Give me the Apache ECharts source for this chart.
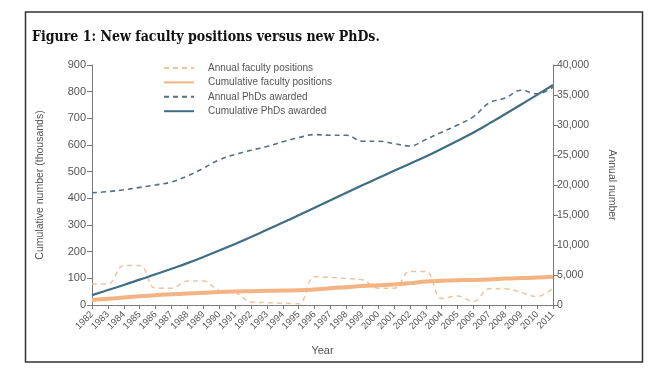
<!DOCTYPE html>
<html>
<head>
<meta charset="utf-8">
<script src="https://cdn.jsdelivr.net/npm/echarts@6/dist/echarts.min.js"></script>
<style>
html,body{margin:0;padding:0;background:#fff;}
#chart{width:650px;height:372px;}
</style>
</head>
<body>
<div id="chart"></div>
<script>
var years = ['1982','1983','1984','1985','1986','1987','1988','1989','1990','1991',
             '1992','1993','1994','1995','1996','1997','1998','1999','2000','2001',
             '2002','2003','2004','2005','2006','2007','2008','2009','2010','2011'];

// Annual faculty positions (right axis, annual number)
var annualFaculty = [3500,3500,6600,6600,2800,2800,4000,4000,2400,2100,
                     500,400,300,200,4700,4600,4400,4200,2800,2800,
                     5600,5600,1100,1500,600,2700,2700,2100,1400,2800];

// Cumulative faculty positions (left axis, thousands)
var cumFaculty = [19,23,28,33,37,40,43,46,49,51,
                  52,53,54,55,58,63,67,71,74,77,
                  82,88,91,93,94,96,99,101,103,106];

// Annual PhDs awarded (right axis, annual number)
var annualPhD = [18700,18900,19200,19600,20000,20500,21500,22800,24200,25100,
                 25800,26400,27200,27900,28400,28300,28300,27300,27300,26900,
                 26500,27600,28800,30000,31400,33700,34500,35800,35200,36300];

// Cumulative PhDs awarded (left axis, thousands)
var cumPhD = [37,56,75,95,115,136,157,180,204,229,
              255,282,309,337,365,393,421,449,476,503,
              530,557,586,616,647,681,716,752,788,825];

var names = ['Annual faculty positions','Cumulative faculty positions','Annual PhDs awarded','Cumulative PhDs awarded'];

var axisGray = '#7a7a7a';
var textGray = '#555';
var font = 'Liberation Sans';

var chart = echarts.init(document.getElementById('chart'), null, {renderer:'canvas'});
chart.setOption({
  animation: false,
  backgroundColor: '#fff',
  title: {
    text: 'Figure 1: New faculty positions versus new PhDs.',
    left: 27, top: 25,
    textStyle: {fontFamily: '"DejaVu Serif Condensed", "DejaVu Serif"', fontWeight: 'bold', fontSize: 14, color: '#111'}
  },
  graphic: [{
    type: 'rect', z: -1, silent: true,
    shape: {x: 25.5, y: 12, width: 617, height: 350},
    style: {fill: 'none', stroke: '#333', lineWidth: 1.5}
  }],
  legend: {
    orient: 'vertical', left: 158, top: 58,
    itemWidth: 30, itemHeight: 10, itemGap: 4.4,
    data: names,
    itemStyle: {opacity: 0},
    textStyle: {fontFamily: font, fontSize: 10, color: textGray, padding: [0,0,0,9]}
  },
  grid: {left: 92, right: 97, top: 65, bottom: 67, containLabel: false},
  xAxis: {
    type: 'category', data: years, boundaryGap: false,
    name: 'Year', nameLocation: 'middle', nameGap: 40,
    nameTextStyle: {fontFamily: font, fontSize: 11, color: textGray},
    axisLine: {lineStyle: {color: axisGray, width: 1}},
    axisTick: {show: true, length: 4, interval: 0, lineStyle: {color: axisGray}},
    axisLabel: {interval: 0, rotate: 45, fontFamily: font, fontSize: 9.5, color: textGray, margin: 8}
  },
  yAxis: [{
    type: 'value', min: 0, max: 900, interval: 100, position: 'left',
    name: 'Cumulative number (thousands)', nameLocation: 'middle', nameGap: 46,
    nameTextStyle: {fontFamily: font, fontSize: 10.5, color: textGray},
    axisLine: {show: true, lineStyle: {color: axisGray}},
    axisTick: {show: true, length: 5, lineStyle: {color: axisGray}},
    splitLine: {show: false},
    axisLabel: {fontFamily: font, fontSize: 11, color: textGray, margin: 6}
  }, {
    type: 'value', min: 0, max: 40000, interval: 5000, position: 'right',
    name: 'Annual number', nameLocation: 'middle', nameGap: 53, nameRotate: -90,
    nameTextStyle: {fontFamily: font, fontSize: 10.5, color: textGray},
    axisLine: {show: true, lineStyle: {color: axisGray}},
    axisTick: {show: true, length: 5, lineStyle: {color: axisGray}},
    splitLine: {show: false},
    axisLabel: {fontFamily: font, fontSize: 10.5, color: textGray, margin: 4,
      formatter: function(v){ return v.toLocaleString('en-US'); }}
  }],
  series: [{
    name: names[0], type: 'line', yAxisIndex: 1, data: annualFaculty,
    smooth: 0.4, symbol: 'none',
    lineStyle: {color: '#e8c6a2', width: 1.5, type: [5,4]}, itemStyle: {color: '#e8c6a2'}
  }, {
    name: names[1], type: 'line', yAxisIndex: 0, data: cumFaculty,
    smooth: 0.4, symbol: 'none',
    lineStyle: {color: '#f3b383', width: 4}, itemStyle: {color: '#f3b383'}
  }, {
    name: names[2], type: 'line', yAxisIndex: 1, data: annualPhD,
    smooth: 0.4, symbol: 'none',
    lineStyle: {color: '#56707f', width: 1.6, type: [5,4]}, itemStyle: {color: '#56707f'}
  }, {
    name: names[3], type: 'line', yAxisIndex: 0, data: cumPhD,
    smooth: 0.4, symbol: 'none',
    lineStyle: {color: '#3f6d84', width: 2.2}, itemStyle: {color: '#3f6d84'}
  }]
});
</script>
</body>
</html>
